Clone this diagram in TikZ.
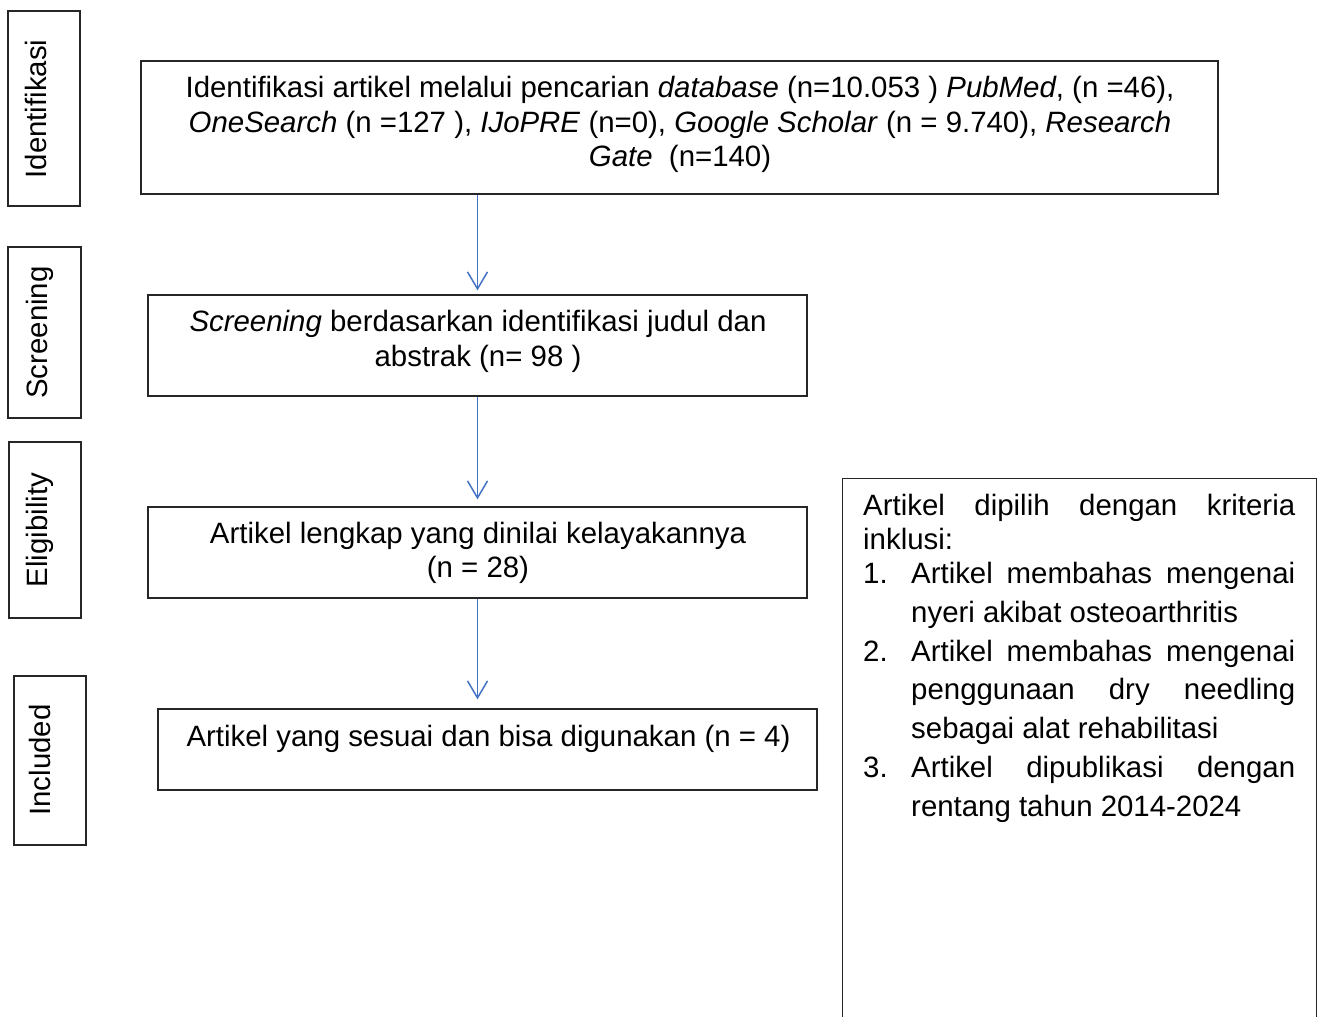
\documentclass[tikz,border=0pt]{standalone}
\usepackage{fontspec}
\setmainfont{Liberation Sans}
\usetikzlibrary{arrows.meta}
\definecolor{arrowblue}{HTML}{4472C4}
\begin{document}
\begin{tikzpicture}[x=1pt,y=-1pt,
  box/.style={draw=black!85, line width=1.3pt, inner sep=0pt},
  txt/.style={font=\fontsize{29.4}{34.4}\selectfont, inner sep=0pt, align=center, anchor=north},
  vlab/.style={font=\fontsize{29.4}{34.4}\selectfont, inner sep=0pt, rotate=90, anchor=base},
  arr/.style={draw=arrowblue, line width=1.5pt, -{Straight Barb[length=17pt,width=20pt]}}]
\clip (0,0) rectangle (1325,1017);
\fill[white] (0,0) rectangle (1325,1017);

% side labels
\node[box, minimum width=72pt, minimum height=195pt] (l1) at (44,108.5) {};
\node[box, minimum width=73pt, minimum height=171pt] (l2) at (44.5,332.5) {};
\node[box, minimum width=72pt, minimum height=176pt] (l3) at (45,530) {};
\node[box, minimum width=72pt, minimum height=169pt] (l4) at (50,760.5) {};
\node[vlab] (t1) at (46,109) {Identifikasi};
\node[vlab] (t2) at (47,332.5) {Screening};
\node[vlab] (t3) at (47,530) {Eligibility};
\node[vlab] (t4) at (50,760) {Included};

% main boxes
\node[box, minimum width=1077pt, minimum height=133pt] (b1) at (679.5,127.5) {};
\node[box, minimum width=659pt, minimum height=101pt] (b2) at (477.5,345.5) {};
\node[box, minimum width=659pt, minimum height=91pt] (b3) at (477.5,552.5) {};
\node[box, minimum width=659pt, minimum height=81pt] (b4) at (487.5,749.5) {};

\node[txt] (b1t) at (680,75.5) {\rule{0pt}{22pt}Identifikasi artikel melalui pencarian \textit{database} (n=10.053 ) \textit{PubMed}, (n =46),\\
\textit{OneSearch} (n =127 ), \textit{IJoPRE} (n=0), \textit{Google Scholar} (n = 9.740), \textit{Research}\\
\textit{Gate}\ \ (n=140)};
\node[txt] (b2t) at (478,309.5) {\rule{0pt}{22pt}\textit{Screening} berdasarkan identifikasi judul dan\\ abstrak (n= 98 )};
\node[txt] (b3t) at (478,521) {\rule{0pt}{22pt}Artikel lengkap yang dinilai kelayakannya\\ (n = 28)};
\node[txt] (b4t) at (488.5,724) {\rule{0pt}{22pt}Artikel yang sesuai dan bisa digunakan (n = 4)};

% right box
\node[box, minimum width=474pt, minimum height=560pt, anchor=north west] (r) at (842,478) {};
\node[inner sep=0pt, anchor=north west, text width=432pt, align=justify,
      font=\fontsize{29.4}{34.4}\selectfont] (rt) at (863,493) {%
\noindent\rule{0pt}{22pt}Artikel dipilih dengan kriteria\linebreak inklusi:\par
\fontsize{29.4}{38.7}\selectfont\vspace{-4.5pt}%
\hangindent=48pt\hangafter=1\noindent\makebox[48pt][l]{1.}Artikel membahas mengenai\linebreak nyeri akibat osteoarthritis\par
\hangindent=48pt\hangafter=1\noindent\makebox[48pt][l]{2.}Artikel membahas mengenai\linebreak penggunaan dry needling\linebreak sebagai alat rehabilitasi\par
\hangindent=48pt\hangafter=1\noindent\makebox[48pt][l]{3.}Artikel dipublikasi dengan\linebreak rentang tahun 2014-2024\par};

% arrows
\draw[arr, shorten >=4pt] (b1.south -| b2.north) -- (b2.north);
\draw[arr, shorten >=7pt] (b2.south) -- (b3.north);
\draw[arr, shorten >=9pt] (b3.south) -- (b3.south |- b4.north);
\end{tikzpicture}
\end{document}
